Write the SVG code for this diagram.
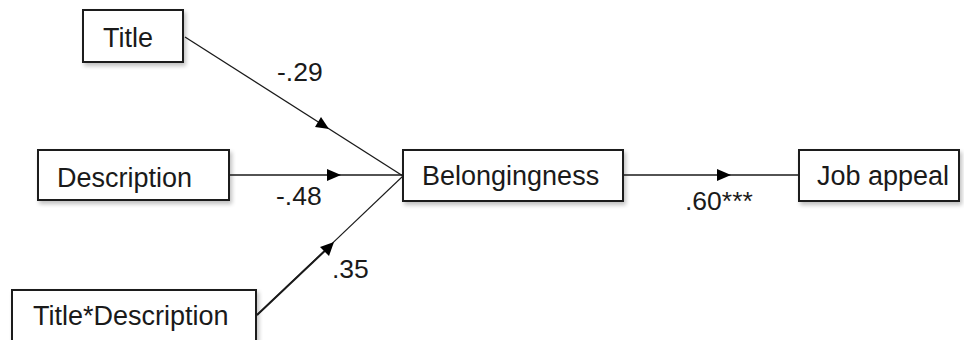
<svg xmlns="http://www.w3.org/2000/svg" width="964" height="340" viewBox="0 0 964 340">
<defs>
<filter id="shadow" x="-10%" y="-20%" width="130%" height="160%">
<feGaussianBlur in="SourceAlpha" stdDeviation="2"/>
<feOffset dx="2" dy="3" result="b"/>
<feComponentTransfer><feFuncA type="linear" slope="0.25"/></feComponentTransfer>
<feMerge><feMergeNode/><feMergeNode in="SourceGraphic"/></feMerge>
</filter>
</defs>
<style>
.box{fill:#fff;stroke:#1a1a1a;stroke-width:2;filter:url(#shadow)}
.t{font-family:"Liberation Sans",Arial,sans-serif;font-size:27px;fill:#1a1a1a}
.lb{font-family:"Liberation Sans",Arial,sans-serif;font-size:26.5px;fill:#1a1a1a}
.ln{stroke:#1a1a1a;stroke-width:1.3;fill:none}
.ah{fill:#000}
</style>
<rect width="964" height="340" fill="#fff"/>
<g id="title">
<rect class="box" x="83" y="10" width="100" height="52"/>
<text class="t" x="103" y="47">Title</text>
</g>
<g id="description">
<rect class="box" x="38" y="150" width="191" height="50"/>
<text class="t" x="57" y="187">Description</text>
</g>
<g id="title-description">
<rect class="box" x="12" y="290" width="244" height="55"/>
<text class="t" x="33" y="325">Title*Description</text>
</g>
<g id="belongingness">
<rect class="box" x="403" y="150" width="220" height="51"/>
<text class="t" x="422" y="185">Belongingness</text>
</g>
<g id="job-appeal">
<rect class="box" x="799" y="150" width="160" height="51"/>
<text class="t" x="817" y="185">Job appeal</text>
</g>
<g id="connectors">
<line class="ln" x1="185" y1="37" x2="403" y2="176"/>
<polygon class="ah" points="329,129 315,127 321,117"/>
<line class="ln" x1="229" y1="175" x2="403" y2="175"/>
<polygon class="ah" points="341,175 327,169 327,181"/>
<line class="ln" x1="257" y1="315" x2="403" y2="176" style="stroke-width:1.1"/>
<line class="ln" x1="257" y1="315" x2="330" y2="246" style="stroke-width:2"/>
<polygon class="ah" points="334,242 329,256 320,247"/>
<line class="ln" x1="623" y1="175" x2="799" y2="175"/>
<polygon class="ah" points="731,175 717,169 717,181"/>
<text class="lb" x="277" y="81">-.29</text>
<text class="lb" x="276" y="205">-.48</text>
<text class="lb" x="332" y="278">.35</text>
<text class="lb" x="685" y="210">.60***</text>
</g>
</svg>
